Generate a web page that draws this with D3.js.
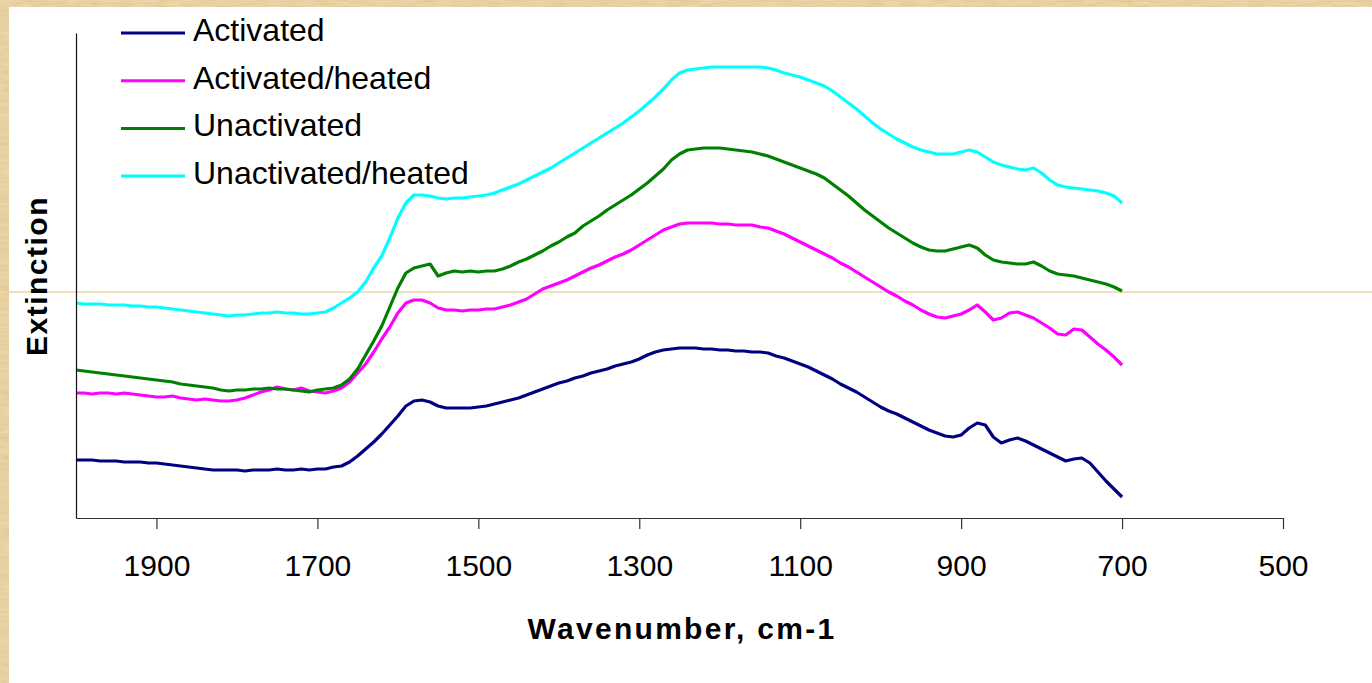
<!DOCTYPE html>
<html>
<head>
<meta charset="utf-8">
<script src="https://cdn.jsdelivr.net/npm/d3@7"></script>
<style>
  html, body { margin: 0; padding: 0; background: #ead2a2; }
  svg { display: block; }
  text { font-family: "Liberation Sans", Arial, sans-serif; fill: #000; }
</style>
</head>
<body>
<svg id="chart" width="1372" height="683"></svg>
<script>
// Sample positions along the spectrum (cm-1)
const wavenumbers = [
  2000, 1990, 1980, 1970, 1960, 1950, 1940, 1930, 1920, 1910,
  1900, 1890, 1880, 1870, 1860, 1850, 1840, 1830, 1820, 1810,
  1800, 1790, 1780, 1770, 1760, 1750, 1740, 1730, 1720, 1710,
  1700, 1690, 1680, 1670, 1660, 1650, 1640, 1630, 1620, 1610,
  1600, 1590, 1580, 1570, 1560, 1550, 1540, 1530, 1520, 1510,
  1500, 1490, 1480, 1470, 1460, 1450, 1440, 1430, 1420, 1410,
  1400, 1390, 1380, 1370, 1360, 1350, 1340, 1330, 1320, 1310,
  1300, 1290, 1280, 1270, 1260, 1250, 1240, 1230, 1220, 1210,
  1200, 1190, 1180, 1170, 1160, 1150, 1140, 1130, 1120, 1110,
  1100, 1090, 1080, 1070, 1060, 1050, 1040, 1030, 1020, 1010,
  1000, 990, 980, 970, 960, 950, 940, 930, 920, 910,
  900, 890, 880, 870, 860, 850, 840, 830, 820, 810,
  800, 790, 780, 770, 760, 750, 740, 730, 720, 710,
  700
];

// Extinction (arbitrary units) for each sample
const activated = [
  0.58, 0.58, 0.58, 0.57, 0.57, 0.57, 0.56, 0.56, 0.56, 0.55,
  0.55, 0.54, 0.53, 0.52, 0.51, 0.50, 0.49, 0.48, 0.48, 0.48,
  0.48, 0.47, 0.48, 0.48, 0.48, 0.49, 0.48, 0.48, 0.49, 0.48,
  0.49, 0.49, 0.51, 0.52, 0.56, 0.62, 0.69, 0.76, 0.84, 0.93,
  1.02, 1.12, 1.17, 1.18, 1.16, 1.12, 1.10, 1.10, 1.10, 1.10,
  1.11, 1.12, 1.14, 1.16, 1.18, 1.20, 1.23, 1.26, 1.29, 1.32,
  1.35, 1.37, 1.40, 1.42, 1.45, 1.47, 1.49, 1.52, 1.54, 1.56,
  1.59, 1.63, 1.66, 1.68, 1.69, 1.70, 1.70, 1.70, 1.69, 1.69,
  1.68, 1.68, 1.67, 1.67, 1.66, 1.66, 1.65, 1.62, 1.60, 1.57,
  1.54, 1.51, 1.47, 1.43, 1.39, 1.34, 1.30, 1.26, 1.21, 1.16,
  1.11, 1.07, 1.04, 1.00, 0.96, 0.92, 0.88, 0.85, 0.82, 0.81,
  0.83, 0.90, 0.95, 0.93, 0.81, 0.75, 0.78, 0.80, 0.77, 0.73,
  0.69, 0.65, 0.61, 0.57, 0.59, 0.60, 0.55, 0.46, 0.37, 0.29,
  0.21
];

const activatedHeated = [
  1.25, 1.25, 1.24, 1.25, 1.25, 1.24, 1.25, 1.24, 1.23, 1.22,
  1.21, 1.21, 1.22, 1.20, 1.19, 1.18, 1.19, 1.18, 1.17, 1.17,
  1.18, 1.20, 1.23, 1.26, 1.28, 1.31, 1.29, 1.28, 1.30, 1.27,
  1.26, 1.25, 1.27, 1.30, 1.36, 1.45, 1.54, 1.66, 1.79, 1.91,
  2.05, 2.15, 2.18, 2.18, 2.15, 2.10, 2.08, 2.08, 2.07, 2.08,
  2.08, 2.09, 2.09, 2.11, 2.13, 2.16, 2.19, 2.24, 2.29, 2.32,
  2.35, 2.38, 2.42, 2.46, 2.50, 2.53, 2.57, 2.61, 2.64, 2.68,
  2.73, 2.78, 2.83, 2.88, 2.91, 2.94, 2.95, 2.95, 2.95, 2.95,
  2.94, 2.94, 2.93, 2.93, 2.93, 2.91, 2.90, 2.87, 2.84, 2.80,
  2.76, 2.72, 2.68, 2.64, 2.60, 2.55, 2.51, 2.46, 2.41, 2.36,
  2.31, 2.26, 2.22, 2.17, 2.13, 2.08, 2.04, 2.01, 2.00, 2.02,
  2.04, 2.08, 2.13, 2.06, 1.98, 2.00, 2.05, 2.06, 2.03, 2.00,
  1.95, 1.90, 1.84, 1.83, 1.89, 1.88, 1.81, 1.74, 1.68, 1.61,
  1.53
];

const unactivated = [
  1.48, 1.47, 1.46, 1.45, 1.44, 1.43, 1.42, 1.41, 1.40, 1.39,
  1.38, 1.37, 1.36, 1.34, 1.33, 1.32, 1.31, 1.30, 1.28, 1.27,
  1.28, 1.28, 1.29, 1.29, 1.30, 1.29, 1.29, 1.28, 1.27, 1.26,
  1.28, 1.29, 1.30, 1.33, 1.39, 1.49, 1.63, 1.77, 1.92, 2.11,
  2.30, 2.45, 2.50, 2.52, 2.54, 2.42, 2.45, 2.47, 2.46, 2.47,
  2.46, 2.47, 2.47, 2.49, 2.52, 2.56, 2.59, 2.63, 2.67, 2.72,
  2.76, 2.81, 2.85, 2.92, 2.97, 3.02, 3.08, 3.13, 3.18, 3.23,
  3.29, 3.35, 3.42, 3.49, 3.58, 3.64, 3.68, 3.69, 3.70, 3.70,
  3.70, 3.69, 3.68, 3.67, 3.66, 3.64, 3.62, 3.59, 3.56, 3.53,
  3.50, 3.47, 3.44, 3.40, 3.34, 3.28, 3.22, 3.15, 3.08, 3.02,
  2.96, 2.90, 2.85, 2.80, 2.75, 2.71, 2.68, 2.67, 2.67, 2.69,
  2.71, 2.73, 2.70, 2.63, 2.58, 2.56, 2.55, 2.54, 2.54, 2.56,
  2.52, 2.47, 2.44, 2.43, 2.42, 2.40, 2.38, 2.36, 2.34, 2.31,
  2.27
];

const unactivatedHeated = [
  2.15, 2.14, 2.14, 2.14, 2.13, 2.13, 2.13, 2.12, 2.12, 2.11,
  2.11, 2.10, 2.09, 2.08, 2.07, 2.06, 2.05, 2.04, 2.03, 2.02,
  2.03, 2.03, 2.04, 2.05, 2.05, 2.06, 2.05, 2.05, 2.04, 2.04,
  2.05, 2.06, 2.10, 2.15, 2.20, 2.26, 2.36, 2.50, 2.62, 2.80,
  3.00, 3.15, 3.23, 3.23, 3.22, 3.20, 3.19, 3.20, 3.20, 3.21,
  3.22, 3.23, 3.25, 3.28, 3.31, 3.34, 3.38, 3.42, 3.46, 3.50,
  3.55, 3.60, 3.65, 3.70, 3.75, 3.80, 3.85, 3.90, 3.95, 4.01,
  4.07, 4.14, 4.21, 4.29, 4.38, 4.45, 4.48, 4.49, 4.50, 4.51,
  4.51, 4.51, 4.51, 4.51, 4.51, 4.51, 4.50, 4.48, 4.45, 4.43,
  4.41, 4.38, 4.35, 4.32, 4.27, 4.21, 4.15, 4.09, 4.02, 3.95,
  3.89, 3.84, 3.79, 3.75, 3.71, 3.68, 3.66, 3.64, 3.64, 3.64,
  3.66, 3.68, 3.66, 3.61, 3.56, 3.53, 3.51, 3.49, 3.48, 3.50,
  3.45, 3.38, 3.33, 3.31, 3.30, 3.29, 3.28, 3.27, 3.25, 3.22,
  3.15
];

const seriesNames = ["Activated", "Activated/heated", "Unactivated", "Unactivated/heated"];
const seriesColors = ["#000080", "#ff00ff", "#008000", "#00ffff"];
const seriesValues = [activated, activatedHeated, unactivated, unactivatedHeated];

const xTickValues = [1900, 1700, 1500, 1300, 1100, 900, 700, 500];
const xDomain = [2000, 500];
const yDomain = [0, 4.85];

const svg = d3.select("#chart");
const W = 1372, H = 683;

// Parchment backdrop with a soft paper grain
const defs = svg.append("defs");
const grain = defs.append("filter").attr("id", "grain")
  .attr("x", 0).attr("y", 0).attr("width", "100%").attr("height", "100%");
grain.append("feTurbulence").attr("type", "fractalNoise")
  .attr("baseFrequency", "0.06 0.35").attr("numOctaves", 3).attr("seed", 4);
grain.append("feColorMatrix").attr("type", "matrix")
  .attr("values", "0 0 0 0 0.55  0 0 0 0 0.42  0 0 0 0 0.2  0 0 0 0.9 -0.25");

svg.append("rect").attr("width", W).attr("height", H).attr("fill", "#ecd5a6");
svg.append("rect").attr("width", W).attr("height", H).attr("filter", "url(#grain)").attr("opacity", 0.55);

// White chart panel
svg.append("rect").attr("x", 9).attr("y", 7).attr("width", W - 9).attr("height", H - 7).attr("fill", "#ffffff");

// Faint paper seam across the panel
svg.append("line").attr("x1", 0).attr("x2", W).attr("y1", 292).attr("y2", 292)
  .attr("stroke", "#ead7a8").attr("stroke-width", 1.5);

const x = d3.scaleLinear().domain(xDomain).range([76, 1283]);
const y = d3.scaleLinear().domain(yDomain).range([518, 33]);

// Spectra
const line = d3.line()
  .x((d, i) => x(wavenumbers[i]))
  .y(d => y(d));

seriesValues.forEach((vals, k) => {
  svg.append("path")
    .datum(vals)
    .attr("fill", "none")
    .attr("stroke", seriesColors[k])
    .attr("stroke-width", 3.2)
    .attr("stroke-linejoin", "round")
    .attr("d", line);
});

// X axis
const xAxis = svg.append("g").attr("transform", "translate(0,518)")
  .call(d3.axisBottom(x).tickValues(xTickValues).tickSizeInner(11).tickSizeOuter(0).tickPadding(26)
    .tickFormat(d3.format("d")));
xAxis.select(".domain").attr("stroke", "#333").attr("stroke-width", 1.2);
xAxis.selectAll(".tick line").attr("stroke", "#333").attr("stroke-width", 1.2);
xAxis.selectAll(".tick text")
  .attr("font-family", "Liberation Sans, Arial, sans-serif")
  .attr("font-size", 30).attr("fill", "#000");

// Y axis (no ticks)
const yAxis = svg.append("g").attr("transform", "translate(76,0)")
  .call(d3.axisLeft(y).tickValues([]).tickSizeOuter(0));
yAxis.select(".domain").attr("stroke", "#111").attr("stroke-width", 1.2);

// Axis titles
svg.append("text")
  .attr("x", 682).attr("y", 639)
  .attr("text-anchor", "middle")
  .attr("font-size", 30).attr("font-weight", "bold")
  .attr("letter-spacing", 2.3)
  .text("Wavenumber, cm-1");

svg.append("text")
  .attr("transform", "translate(47,276) rotate(-90)")
  .attr("text-anchor", "middle")
  .attr("font-size", 30).attr("font-weight", "bold")
  .attr("letter-spacing", 1.5)
  .text("Extinction");

// Legend
const legend = svg.append("g");
seriesNames.forEach((name, k) => {
  const ly = 33 + k * 47.7;
  legend.append("line")
    .attr("x1", 121).attr("x2", 185).attr("y1", ly).attr("y2", ly)
    .attr("stroke", seriesColors[k]).attr("stroke-width", 3);
  legend.append("text")
    .attr("x", 193).attr("y", ly + 8)
    .attr("font-size", 32)
    .text(name);
});
</script>
</body>
</html>
